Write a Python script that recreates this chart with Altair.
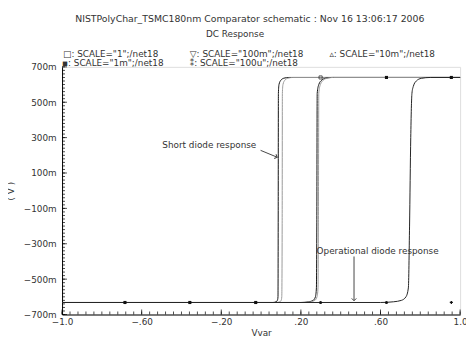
import altair as alt
import pandas as pd

FONT = "DejaVu Sans"
TXT = "#333333"
FS = 9

# ---- data ----
series_names = ["1", "100m", "10m", "1m", "100u"]
series_colors = ["#111111", "#999999", "#111111", "#999999", "#222222"]

a_x = [-1.0, 0.060, 0.075, 0.082, 0.085, 0.086, 0.087, 0.090, 0.100, 0.115, 0.140, 1.0]
a_y = [-0.632, -0.632, -0.628, -0.62, -0.60, -0.20, 0.55, 0.60, 0.625, 0.636, 0.640, 0.640]
b_x = [-1.0, 0.078, 0.094, 0.101, 0.104, 0.106, 0.107, 0.110, 0.120, 0.135, 0.160, 1.0]
b_y = [-0.632, -0.632, -0.628, -0.62, -0.60, -0.20, 0.55, 0.60, 0.625, 0.636, 0.640, 0.640]
c_x = [-1.0, 0.200, 0.240, 0.262, 0.273, 0.278, 0.280, 0.282, 0.290, 0.305, 0.325, 0.355, 1.0]
c_y = [-0.632, -0.632, -0.628, -0.62, -0.60, -0.55, -0.20, 0.55, 0.60, 0.625, 0.636, 0.640, 0.640]
d_x = [-1.0, 0.210, 0.248, 0.270, 0.281, 0.286, 0.288, 0.290, 0.298, 0.313, 0.333, 0.362, 1.0]
d_y = [-0.632, -0.632, -0.628, -0.62, -0.60, -0.55, -0.20, 0.55, 0.60, 0.625, 0.636, 0.640, 0.640]
e_x = [-1.0, 0.600, 0.665, 0.705, 0.728, 0.740, 0.746, 0.752, 0.758, 0.765, 0.780, 0.805, 0.850, 1.0]
e_y = [-0.632, -0.632, -0.628, -0.62, -0.60, -0.55, -0.20, 0.30, 0.55, 0.59, 0.62, 0.635, 0.640, 0.640]

curves_x = [a_x, b_x, c_x, d_x, e_x]
curves_y = [a_y, b_y, c_y, d_y, e_y]

# markers on the curves
mk_x = [-0.684, -0.358, -0.027, 0.299, 0.630, 0.956, 0.299, 0.630, 0.956]
mk_y = [-0.632, -0.632, -0.632, -0.632, -0.632, -0.632, 0.640, 0.640, 0.640]
mk_shape = ["square", "square", "square", "circle", "circle", "cross", "square", "square", "square"]
mk_fill = [True, True, True, True, True, True, False, True, True]

# axis ticks / labels
x_tick_vals = [-1.0, -0.6, -0.2, 0.2, 0.6, 1.0]
x_tick_labels = ["\u22121.0", "\u2212.60", "\u2212.20", ".20", ".60", "1.0"]
y_tick_vals = [-0.7, -0.5, -0.3, -0.1, 0.1, 0.3, 0.5, 0.7]
y_tick_labels = ["\u2212700m", "\u2212500m", "\u2212300m", "\u2212100m", "100m", "300m", "500m", "700m"]

title_text = "NISTPolyChar_TSMC180nm Comparator schematic : Nov 16 13:06:17 2006"
subtitle_text = "DC Response"
legend_labels = [
    "\u25a1: SCALE=\"1\";/net18",
    "\u25bd: SCALE=\"100m\";/net18",
    "\u25b5: SCALE=\"10m\";/net18",
    "\u25aa: SCALE=\"1m\";/net18",
    "\u2051: SCALE=\"100u\";/net18",
]

ann_text = ["Short diode response", "Operational diode response"]
ann_x = [-0.496, 0.279]
ann_y = [0.256, -0.344]
arrow_x1 = [-0.0025, 0.467]
arrow_y1 = [0.228, -0.372]
arrow_x2 = [0.081, 0.467]
arrow_y2 = [0.189, -0.622]
arrow_angle = [292, 0]

W, H = 405, 252

# ---- build tables ----
rows = []
for name, xs_, ys_ in zip(series_names, curves_x, curves_y):
    for i, (xv, yv) in enumerate(zip(xs_, ys_)):
        rows.append({"series": name, "x": xv, "y": yv, "o": i})
curves = pd.DataFrame(rows)

xs = alt.Scale(domain=[-1, 1], nice=False, zero=False)
ys = alt.Scale(domain=[-0.7, 0.7], nice=False, zero=False)

def lab_expr(vals, labels):
    v = "[" + ",".join(repr(x) for x in vals) + "]"
    l = "[" + ",".join("'" + s + "'" for s in labels) + "]"
    return f"{l}[indexof({v}, datum.value)]"

x_axis = alt.Axis(
    values=x_tick_vals, labelExpr=lab_expr(x_tick_vals, x_tick_labels),
    title="Vvar", ticks=False, grid=False, domainColor="#000", labelPadding=3,
    labelFont=FONT, labelFontSize=FS, labelColor=TXT, titleFont=FONT, titleFontSize=FS,
    titleFontWeight="normal", titleColor=TXT, titlePadding=2, labelFlush=False,
    labelOverlap=False)
y_axis = alt.Axis(
    values=y_tick_vals, labelExpr=lab_expr(y_tick_vals, y_tick_labels),
    title="( V )", ticks=False, grid=False, domainColor="#000", labelPadding=6,
    labelFont=FONT, labelFontSize=FS, labelColor=TXT, titleFont=FONT, titleFontSize=FS,
    titleFontWeight="normal", titleColor=TXT, titlePadding=8, labelFlush=False,
    labelOverlap=False)

def X(f):
    return alt.X(f, scale=xs, axis=x_axis)

def Y(f):
    return alt.Y(f, scale=ys, axis=y_axis)

lines = alt.Chart(curves).mark_line(strokeWidth=1, interpolate="monotone").encode(
    x=X("x:Q"), y=Y("y:Q"),
    color=alt.Color("series:N", scale=alt.Scale(domain=series_names, range=series_colors), legend=None),
    detail="series:N",
    order="o:Q",
)

mk = pd.DataFrame({"x": mk_x, "y": mk_y, "shape": mk_shape, "filled": mk_fill})
mk_filled = alt.Chart(mk[mk["filled"]]).mark_point(filled=True, size=10, color="#111", opacity=1).encode(
    x=X("x:Q"), y=Y("y:Q"), shape=alt.Shape("shape:N", scale=None, legend=None))
mk_open = alt.Chart(mk[~mk["filled"]]).mark_point(filled=False, size=10, color="#111", strokeWidth=1).encode(
    x=X("x:Q"), y=Y("y:Q"), shape=alt.Shape("shape:N", scale=None, legend=None))

# inside ticks
y_minor = [round(-0.7 + 0.02 * i, 2) for i in range(71)]
x_minor = [round(-1.0 + 0.04 * i, 2) for i in range(51)]
y_major = [round(-0.7 + 0.2 * i, 2) for i in range(8)]
x_major = [round(-1.0 + 0.4 * i, 2) for i in range(6)]

xd = alt.XDatum(-1, scale=xs, axis=x_axis)
yd = alt.YDatum(-0.7, scale=ys, axis=y_axis)

yt_minor = alt.Chart(pd.DataFrame({"y": y_minor})).mark_tick(
    orient="horizontal", size=3, thickness=1, xOffset=1.5, color="#000").encode(x=xd, y=Y("y:Q"))
yt_major = alt.Chart(pd.DataFrame({"y": y_major})).mark_tick(
    orient="horizontal", size=5, thickness=1, xOffset=2.5, color="#000").encode(x=xd, y=Y("y:Q"))
xt_minor = alt.Chart(pd.DataFrame({"x": x_minor})).mark_tick(
    orient="vertical", size=3, thickness=1, yOffset=-1.5, color="#000").encode(y=yd, x=X("x:Q"))
xt_major = alt.Chart(pd.DataFrame({"x": x_major})).mark_tick(
    orient="vertical", size=5, thickness=1, yOffset=-2.5, color="#000").encode(y=yd, x=X("x:Q"))

# annotations
ann = pd.DataFrame({"t": ann_text, "x": ann_x, "y": ann_y})
ann_layer = alt.Chart(ann).mark_text(align="left", baseline="middle", font=FONT, fontSize=FS, color=TXT).encode(
    x=X("x:Q"), y=Y("y:Q"), text="t:N")
arr = pd.DataFrame({"x": arrow_x1, "y": arrow_y1, "x2": arrow_x2, "y2": arrow_y2, "a": arrow_angle})
arr_lines = alt.Chart(arr).mark_rule(strokeWidth=1, color="#444").encode(
    x=X("x:Q"), y=Y("y:Q"), x2="x2:Q", y2="y2:Q")
arr_heads = alt.Chart(arr).mark_point(shape="M -1 -1 L 0 0 L 1 -1", filled=False, size=22,
                                      strokeWidth=1, color="#444", opacity=1).encode(
    x=X("x2:Q"), y=Y("y2:Q"), angle=alt.Angle("a:Q", scale=None))

# header texts (title, subtitle, legend rows) placed in pixels relative to the plot
hdr_text = [title_text, subtitle_text] + legend_labels
hdr_px = [191, 176, 1, 130, 272, 0, 130]
hdr_py = [-49, -33, -13, -13, -13, -4, -4]
hdr_al = ["center", "center", "left", "left", "left", "left", "left"]
hdr_fs = [9.5, 9, 9, 9, 9, 9, 9]
anchor = pd.DataFrame({"k": [0]})
hdr_layers = [
    alt.Chart(anchor).mark_text(align=al, baseline="middle", font=FONT, fontSize=fs, color=TXT, text=t)
    .encode(x=alt.value(px), y=alt.value(py))
    for t, px, py, al, fs in zip(hdr_text, hdr_px, hdr_py, hdr_al, hdr_fs)
]

chart = alt.layer(
    lines, mk_filled, mk_open, yt_minor, yt_major, xt_minor, xt_major,
    ann_layer, arr_lines, arr_heads, *hdr_layers
).properties(
    width=W, height=H,
    autosize=alt.AutoSizeParams(type="none"),
    padding={"left": 55, "top": 57, "right": 6, "bottom": 20},
).configure_view(stroke=None).configure_axis(labelOverlap=False).configure(background="white")

chart.save("out.html", embed_options={"renderer": "svg", "actions": False})
